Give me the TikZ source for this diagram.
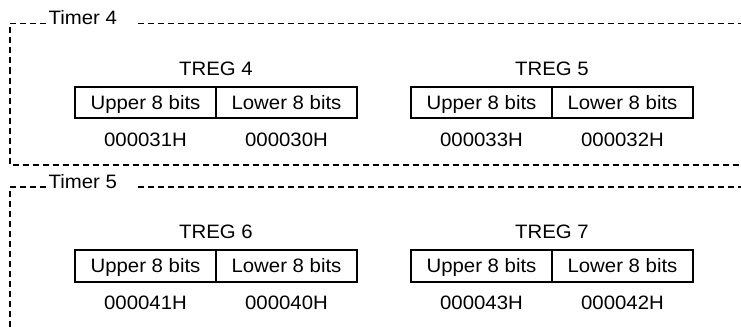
\documentclass[tikz,border=0pt]{standalone}
\usepackage{fontspec}
\setmainfont{Liberation Sans}[FakeStretch=1.05]
\begin{document}
\begin{tikzpicture}[x=1pt,y=-1pt,
  frame/.style={line width=1.3pt,dash pattern=on 6pt off 4pt},
  cell/.style={draw,line width=2pt,minimum width=141pt,minimum height=31.6pt,inner sep=0pt,outer sep=0pt,text height=13.3pt,text depth=0pt},
  lbl/.style={inner sep=0pt,anchor=base},
  ttl/.style={inner sep=0pt,anchor=base west},
  every node/.style={font=\fontsize{19.4pt}{22pt}\selectfont}]
\useasboundingbox (0,0) rectangle (741,329);
% ---------- Timer 4 ----------
\coordinate (a1) at (46,23.5);
\coordinate (a0) at (10,23.5);
\coordinate (a2) at (138,23.5);
\coordinate (a3) at (741,23.5);
\coordinate (a4) at (10,165);
\coordinate (a5) at (741,165);
\node[ttl] (t4) at (48.5,24.7) {Timer 4};
\draw[frame] (a1) -- (a0) -- (a4) -- (a5);
\draw[frame] (a2) -- (a3);
\node[lbl] (treg4) at (216,75.3) {TREG 4};
\node[cell] (u4) at (145.5,102.5) {Upper 8 bits};
\node[cell,anchor=west] (l4) at (u4.east) {Lower 8 bits};
\node[lbl] (ad31) at (u4.center|-0,146) {000031H};
\node[lbl] (ad30) at (l4.center|-0,146) {000030H};
\node[lbl] (treg5) at (552,75.3) {TREG 5};
\node[cell] (u5) at (481.5,102.5) {Upper 8 bits};
\node[cell,anchor=west] (l5) at (u5.east) {Lower 8 bits};
\node[lbl] (ad33) at (u5.center|-0,146) {000033H};
\node[lbl] (ad32) at (l5.center|-0,146) {000032H};
% ---------- Timer 5 ----------
\begin{scope}[yshift=-163.5pt]
\coordinate (b1) at (46,23.5);
\coordinate (b0) at (10,23.5);
\coordinate (b2) at (138,23.5);
\coordinate (b3) at (741,23.5);
\coordinate (b4) at (10,170);
\node[ttl] (t5) at (48.5,24.7) {Timer 5};
\draw[frame] (b1) -- (b0) -- (b4);
\draw[frame] (b2) -- (b3);
\node[lbl] (treg6) at (216,75.3) {TREG 6};
\node[cell] (u6) at (145.5,102.5) {Upper 8 bits};
\node[cell,anchor=west] (l6) at (u6.east) {Lower 8 bits};
\node[lbl] (ad41) at (u6.center|-0,146) {000041H};
\node[lbl] (ad40) at (l6.center|-0,146) {000040H};
\node[lbl] (treg7) at (552,75.3) {TREG 7};
\node[cell] (u7) at (481.5,102.5) {Upper 8 bits};
\node[cell,anchor=west] (l7) at (u7.east) {Lower 8 bits};
\node[lbl] (ad43) at (u7.center|-0,146) {000043H};
\node[lbl] (ad42) at (l7.center|-0,146) {000042H};
\end{scope}
\end{tikzpicture}
\end{document}
